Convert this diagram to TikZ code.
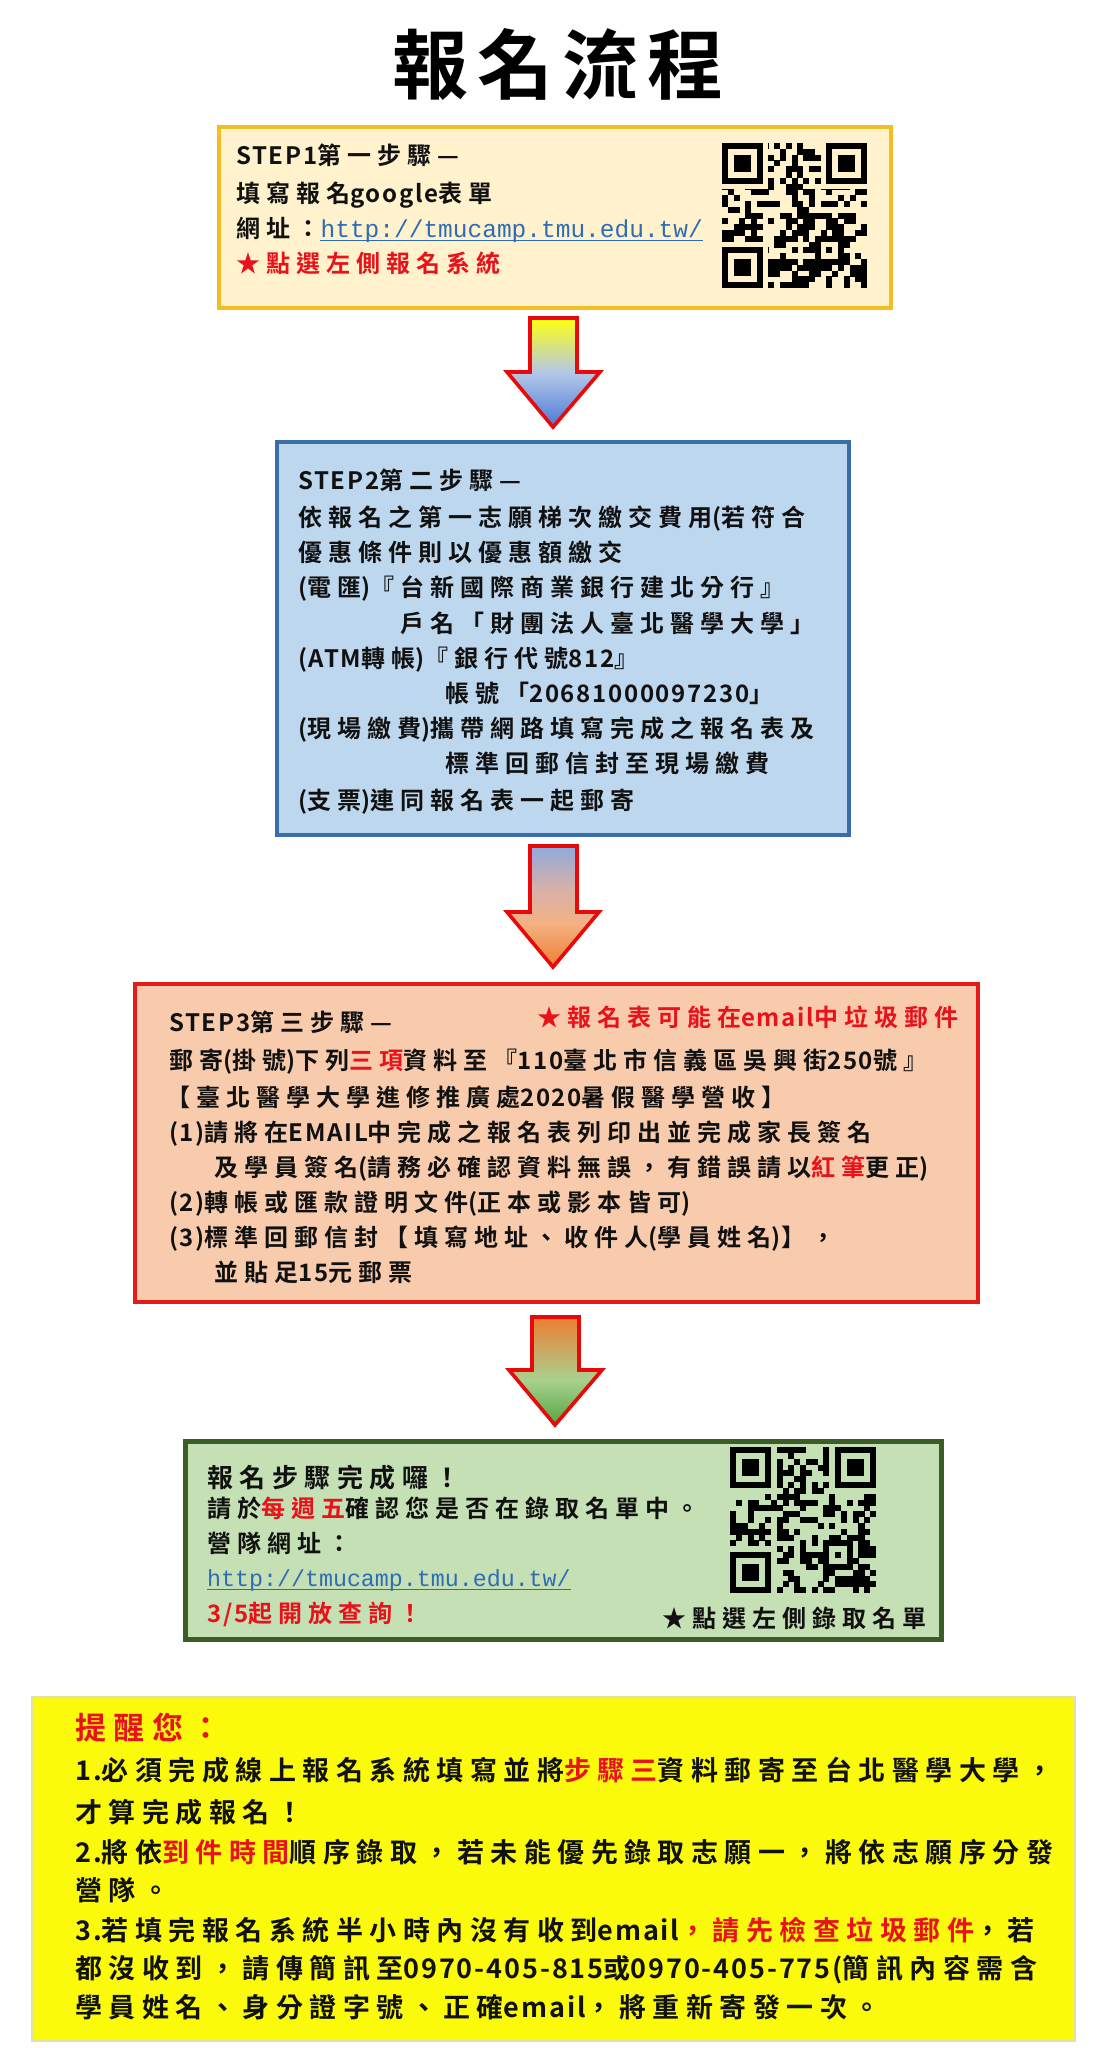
\documentclass[tikz,border=0pt]{standalone}
\usepackage{fontspec}
\newfontfamily\cjk{Noto Sans CJK TC}[BoldFont=* Bold, LetterSpace=25]
\newfontfamily\cjky{Noto Sans CJK TC}[BoldFont=* Bold, LetterSpace=24]
\newfontfamily\titlef{Noto Sans CJK TC}[BoldFont=* Bold, LetterSpace=12]
\newfontfamily\lat{Noto Sans CJK TC}[BoldFont=* Bold, LetterSpace=7]
\newfontfamily\urlf{Liberation Mono}
\newcommand\ltn[1]{{\lat #1}}
\definecolor{y1b}{HTML}{F2BE22}
\definecolor{y1f}{HTML}{FFF2CC}
\definecolor{b2b}{HTML}{3A6EA8}
\definecolor{b2f}{HTML}{BDD7EE}
\definecolor{r3b}{HTML}{E51B1B}
\definecolor{r3f}{HTML}{F8CBAD}
\definecolor{g4b}{HTML}{3B5E27}
\definecolor{g4f}{HTML}{C5E0B4}
\definecolor{yel}{HTML}{FAFA0A}
\definecolor{yelb}{HTML}{E2E2A8}
\definecolor{urlblue}{HTML}{2E6DB5}
\definecolor{redtxt}{HTML}{E8121A}
\definecolor{txtk}{HTML}{111111}
\definecolor{arrred}{HTML}{E80A0A}
\definecolor{a1t}{HTML}{FFFF10}
\definecolor{a1m}{HTML}{B4C7E7}
\definecolor{a1b}{HTML}{4A7AD6}
\definecolor{a2t}{HTML}{8FAADC}
\definecolor{a2u}{HTML}{D8B0A8}
\definecolor{a2m}{HTML}{F4B183}
\definecolor{a2b}{HTML}{ED7D31}
\definecolor{a3t}{HTML}{ED7D31}
\definecolor{a3m}{HTML}{A9D18E}
\definecolor{a3b}{HTML}{55A443}
\pgfdeclareverticalshading{arone}{100bp}{color(0bp)=(a1b); color(25bp)=(a1b); color(50bp)=(a1m); color(75bp)=(a1t); color(100bp)=(a1t)}
\pgfdeclareverticalshading{artwo}{100bp}{color(0bp)=(a2b); color(25bp)=(a2b); color(43bp)=(a2m); color(57bp)=(a2u); color(75bp)=(a2t); color(100bp)=(a2t)}
\pgfdeclareverticalshading{arthree}{100bp}{color(0bp)=(a3b); color(25bp)=(a3b); color(46bp)=(a3m); color(75bp)=(a3t); color(100bp)=(a3t)}
\newcommand\drawqr[5]{%
\begin{scope}[shift={(#1,#2)}, x=#3pt, y=-#3pt]
\pgfmathsetseed{#4}%
\foreach \i in {0,...,24}{\foreach \j in {0,...,24}{%
  \pgfmathtruncatemacro\qv{(rnd<0.48)}%
  \ifnum\qv=1\relax\fill[black] (\i,\j) rectangle ++(1.03,1.03);\fi}}
\fill[#5] (0,0) rectangle (8,8);
\fill[#5] (17,0) rectangle (25,8);
\fill[#5] (0,17) rectangle (8,25);
\fill[#5] (8,6) rectangle (17,7);
\fill[#5] (6,8) rectangle (7,17);
\foreach \k in {8,10,...,16}{\fill[black] (\k,6) rectangle ++(1.03,1); \fill[black] (6,\k) rectangle ++(1,1.03);}
\foreach \ox/\oy in {0/0,18/0,0/18}{%
  \fill[black] (\ox,\oy) rectangle ++(7,7);
  \fill[#5] (\ox+1,\oy+1) rectangle ++(5,5);
  \fill[black] (\ox+2,\oy+2) rectangle ++(3,3);}
\fill[black] (16,16) rectangle ++(5,5);
\fill[#5] (17,17) rectangle ++(3,3);
\fill[black] (18,18) rectangle ++(1,1);
\end{scope}}
\tikzset{
  txt/.style={anchor=base west, inner sep=0pt, text=txtk, font=\cjk\bfseries\fontsize{24}{24}\selectfont},
  txtbig/.style={anchor=base west, inner sep=0pt, text=txtk, font=\cjk\bfseries\fontsize{26}{26}\selectfont},
  ytxt/.style={anchor=base west, inner sep=0pt, text=txtk, font=\cjky\bfseries\fontsize{27}{27}\selectfont},
  urltxt/.style={anchor=base west, inner sep=0pt, text=urlblue, font=\urlf\fontsize{24.5}{24.5}\selectfont},
  boxst/.style={rectangle, anchor=north west, inner sep=0pt, line width=4pt},
  arrst/.style={draw=arrred, line width=3.6pt, line join=miter},
  uline/.style={draw=urlblue, line width=1.3pt}
}
\begin{document}
\begin{tikzpicture}[x=1pt,y=-1pt]
\fill[white] (0,0) rectangle (1101,2048);
\useasboundingbox (0,0) rectangle (1101,2048);

% title
\node[anchor=base west, inner sep=0pt, text=black, font=\titlef\bfseries\fontsize{76}{76}\selectfont] (title) at (392,93) {報名流程};

% boxes
\node[boxst, draw=y1b, fill=y1f, minimum width=672, minimum height=181] (b1) at (217,125) {};
\node[boxst, draw=b2b, fill=b2f, minimum width=572, minimum height=393] (b2) at (275,440) {};
\node[boxst, draw=r3b, fill=r3f, minimum width=843, minimum height=318] (b3) at (133,982) {};
\node[boxst, draw=g4b, fill=g4f, line width=4.5pt, minimum width=756, minimum height=198] (b4) at (183,1439) {};
\node[rectangle, anchor=north west, inner sep=0pt, draw=yelb, fill=yel, line width=1.5pt, minimum width=1043, minimum height=344] (b5) at (31,1696) {};

% arrows
\shade[shading=arone]
  (530,318) -- (577,318) -- (577,372) -- (600,372) -- (553,427) -- (507,372) -- (530,372) -- cycle;
\draw[arrst]
  (530,318) -- (577,318) -- (577,372) -- (600,372) -- (553,427) -- (507,372) -- (530,372) -- cycle;
\shade[shading=artwo]
  (530,846) -- (577,846) -- (577,912) -- (599,912) -- (553,967) -- (507,912) -- (530,912) -- cycle;
\draw[arrst]
  (530,846) -- (577,846) -- (577,912) -- (599,912) -- (553,967) -- (507,912) -- (530,912) -- cycle;
\shade[shading=arthree]
  (532,1317) -- (579,1317) -- (579,1370) -- (602,1370) -- (555,1425) -- (509,1370) -- (532,1370) -- cycle;
\draw[arrst]
  (532,1317) -- (579,1317) -- (579,1370) -- (602,1370) -- (555,1425) -- (509,1370) -- (532,1370) -- cycle;

% QR codes
\drawqr{722}{143}{5.8}{17}{y1f}
\drawqr{730}{1447}{5.84}{29}{g4f}

% box 1
\node[txt] (s1h) at (236,164) {\ltn{STEP1}第一步驟—};
\node[txt] (s1a) at (236,202) {填寫報名\ltn{google}表單};
\node[txt] (s1b) at (236,237) {網址：};
\node[urltxt] (u1) at (s1b.base east) {http://tmucamp.tmu.edu.tw/};
\draw[uline] ([yshift=-3.5pt]u1.base west) -- ([yshift=-3.5pt]u1.base east);
\node[txt, text=redtxt] (s1c) at (236,272) {★點選左側報名系統};

% box 2
\node[txt] (s2h) at (298,489) {\ltn{STEP2}第二步驟—};
\node[txt] (s2a) at (298,526) {依報名之第一志願梯次繳交費用\ltn{(}若符合};
\node[txt] (s2b) at (298,561) {優惠條件則以優惠額繳交};
\node[txt] (s2c) at (298,596) {\ltn{(}電匯\ltn{)}『台新國際商業銀行建北分行』};
\node[txt] (s2d) at (400,632) {戶名「財團法人臺北醫學大學」};
\node[txt] (s2e) at (298,667) {\ltn{(ATM}轉帳\ltn{)}『銀行代號\ltn{812}』};
\node[txt] (s2f) at (445,702) {帳號「\ltn{20681000097230}」};
\node[txt] (s2g) at (298,737) {\ltn{(}現場繳費\ltn{)}攜帶網路填寫完成之報名表及};
\node[txt] (s2h2) at (445,772) {標準回郵信封至現場繳費};
\node[txt] (s2i) at (298,809) {\ltn{(}支票\ltn{)}連同報名表一起郵寄};

% box 3
\node[txt] (s3h) at (169,1031) {\ltn{STEP3}第三步驟—};
\node[txt, text=redtxt] (s3n) at (537,1026) {★報名表可能在\ltn{email}中垃圾郵件};
\node[txt] (s3a) at (169,1069) {郵寄\ltn{(}掛號\ltn{)}下列{\color{redtxt}三項}資料至『\ltn{110}臺北市信義區吳興街\ltn{250}號』};
\node[txt] (s3b) at (166,1106) {【臺北醫學大學進修推廣處\ltn{2020}暑假醫學營收】};
\node[txt] (s3c) at (169,1141) {\ltn{(1)}請將在\ltn{EMAIL}中完成之報名表列印出並完成家長簽名};
\node[txt] (s3d) at (214,1176) {及學員簽名\ltn{(}請務必確認資料無誤，有錯誤請以{\color{redtxt}紅筆}更正\ltn{)}};
\node[txt] (s3e) at (169,1211) {\ltn{(2)}轉帳或匯款證明文件\ltn{(}正本或影本皆可\ltn{)}};
\node[txt] (s3f) at (169,1246) {\ltn{(3)}標準回郵信封【填寫地址、收件人\ltn{(}學員姓名\ltn{)}】，};
\node[txt] (s3g) at (214,1281) {並貼足\ltn{15}元郵票};

% box 4
\node[txtbig] (s4h) at (207,1487) {報名步驟完成囉！};
\node[txt] (s4a) at (207,1517) {請於{\color{redtxt}每週五}確認您是否在錄取名單中。};
\node[txt] (s4b) at (207,1552) {營隊網址：};
\node[urltxt, font=\urlf\fontsize{23.3}{23.3}\selectfont] (u2) at (207,1586) {http://tmucamp.tmu.edu.tw/};
\draw[uline] ([yshift=-3.5pt]u2.base west) -- ([yshift=-3.5pt]u2.base east);
\node[txt, text=redtxt] (s4c) at (207,1622) {\ltn{3/5}起開放查詢！};
\node[txt] (s4d) at (662,1627) {★點選左側錄取名單};

% reminder box
\node[ytxt, text=redtxt, font=\cjky\bfseries\fontsize{31}{31}\selectfont] (r0) at (75,1739) {提醒您：};
\node[ytxt] (r1) at (75,1780) {\ltn{1.}必須完成線上報名系統填寫並將{\color{redtxt}步驟三}資料郵寄至台北醫學大學，};
\node[ytxt] (r2) at (75,1822) {才算完成報名！};
\node[ytxt] (r3) at (75,1862) {\ltn{2.}將依{\color{redtxt}到件時間}順序錄取，若未能優先錄取志願一，將依志願序分發};
\node[ytxt] (r4) at (75,1900) {營隊。};
\node[ytxt] (r5) at (75,1940) {\ltn{3.}若填完報名系統半小時內沒有收到\ltn{email}{\color{redtxt}，請先檢查垃圾郵件}，若};
\node[ytxt] (r6) at (75,1978) {都沒收到，請傳簡訊至\ltn{0970-405-815}或\ltn{0970-405-775(}簡訊內容需含};
\node[ytxt] (r7) at (75,2017) {學員姓名、身分證字號、正確\ltn{email}，將重新寄發一次。};
\end{tikzpicture}
\end{document}
